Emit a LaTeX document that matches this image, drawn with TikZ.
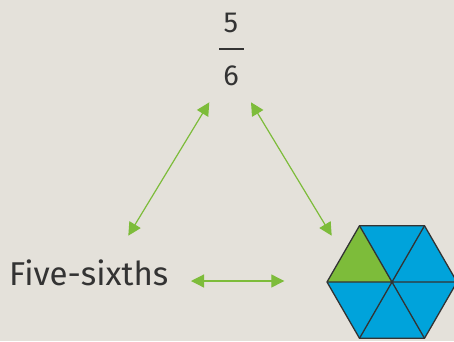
\documentclass[tikz,border=0pt]{standalone}
\usepackage{fontspec}
\setmainfont{Fira Sans}
\usetikzlibrary{arrows.meta}
\definecolor{bg}{HTML}{E4E1DA}
\definecolor{grn}{HTML}{7DBC3A}
\definecolor{blu}{HTML}{00A3DB}
\definecolor{ink}{HTML}{333333}
\tikzset{
  link/.style={grn, line width=1.2pt, {Triangle[length=13pt,width=13pt]}-{Triangle[length=13pt,width=13pt]}},
  hexline/.style={ink, line width=1.3pt, line join=round},
  digit/.style={ink, font=\fontsize{29}{29}\selectfont, inner sep=0},
}
\begin{document}
\begin{tikzpicture}[x=1pt,y=-1pt]
\fill[bg] (0,0) rectangle (454,341);
\useasboundingbox (0,0) rectangle (454,341);
\clip (0,0) rectangle (454,341);
% fraction
\node[digit] (num) at (231,23) {5};
\node[digit] (den) at (231,76) {6};
\draw[ink, line width=1.6pt] (219,49) -- (244,49);
% words
\node[ink, font=\fontsize{33}{33}\selectfont, inner sep=0, anchor=base west] (words) at (9,285) {Five-sixths};
% hexagon
\coordinate (hc) at (392,282);
\coordinate (h0) at (457,282);
\coordinate (h1) at (424.5,225.7);
\coordinate (h2) at (359.5,225.7);
\coordinate (h3) at (327,282);
\coordinate (h4) at (359.5,338.3);
\coordinate (h5) at (424.5,338.3);
\fill[blu] (h0) -- (h1) -- (h2) -- (h3) -- (h4) -- (h5) -- cycle;
\fill[grn] (hc) -- (h2) -- (h3) -- cycle;
\draw[hexline] (h0) -- (h1) -- (h2) -- (h3) -- (h4) -- (h5) -- cycle;
\draw[hexline] (h0) -- (h3) (h1) -- (h4) (h2) -- (h5);
% arrow ends
\coordinate (a1) at (209.3,102.3);
\coordinate (a2) at (128.3,235.7);
\coordinate (b1) at (251,102.3);
\coordinate (b2) at (331.7,235.7);
\coordinate (c1) at (191,281);
\coordinate (c2) at (284.3,281);
\draw[link] (a1) -- (a2);
\draw[link] (b1) -- (b2);
\draw[link] (c1) -- (c2);
\end{tikzpicture}
\end{document}
